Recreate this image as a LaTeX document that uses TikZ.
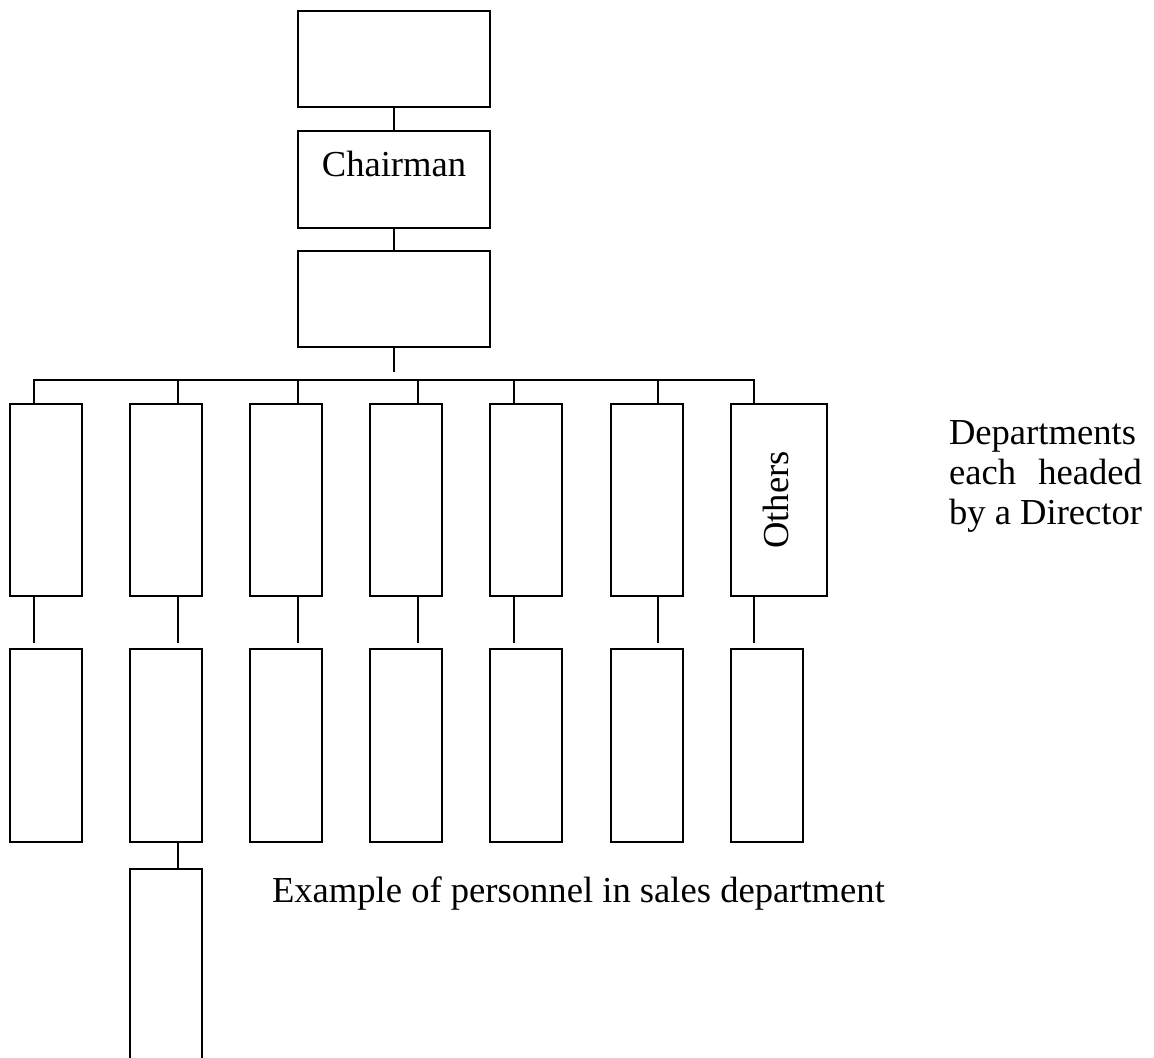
\documentclass[tikz,border=0pt]{standalone}
\usepackage{fontspec}
\setmainfont{Liberation Serif}
\begin{document}
\begin{tikzpicture}[x=0.5pt, y=-0.5pt, line width=1pt,
    wide/.style = {draw, minimum width=96pt, minimum height=48pt, inner sep=0pt},
    tall/.style = {draw, minimum width=36pt, minimum height=96pt, inner sep=0pt},
    txt/.style = {inner sep=0pt, font=\fontsize{18.3}{20}\selectfont}]

	\clip (0,0) rectangle (1154,1057);

	\node[wide] (T) at (394,59) {};
	\node[wide, minimum height=48.5pt] (C) at (394,179.5) {};
	\node[txt, anchor=base] (Clabel) at (394,176) {Chairman};
	\node[wide] (B) at (394,299) {};

	\node[tall] (D1) at (46,500) {};
	\node[tall] (D2) at (166,500) {};
	\node[tall] (D3) at (286,500) {};
	\node[tall] (D4) at (406,500) {};
	\node[tall] (D5) at (526,500) {};
	\node[tall] (D6) at (646.5,500) {};
	\node[tall, minimum width=48pt] (D7) at (779,500) {};
	\node[txt, rotate=90] (Olabel) at (775.5,500) {Others};

	\node[tall, minimum height=96.5pt] (S1) at (46,745.5) {};
	\node[tall, minimum height=96.5pt] (S2) at (166,745.5) {};
	\node[tall, minimum height=96.5pt] (S3) at (286,745.5) {};
	\node[tall, minimum height=96.5pt] (S4) at (406,745.5) {};
	\node[tall, minimum height=96.5pt] (S5) at (526,745.5) {};
	\node[tall, minimum height=96.5pt] (S6) at (646.5,745.5) {};
	\node[tall, minimum height=96.5pt] (S7) at (766.5,745.5) {};

	\node[tall, minimum height=96.5pt] (P) at (166,965.5) {};

	\coordinate (bar) at (394,380);
	\coordinate (j1) at (34,380);
	\coordinate (j2) at (178,380);
	\coordinate (j3) at (298,380);
	\coordinate (j4) at (418,380);
	\coordinate (j5) at (514,380);
	\coordinate (j6) at (658,380);
	\coordinate (j7) at (754,380);

	\draw (T) -- (C);
	\draw (C) -- (B);
	\draw[shorten >=4pt] (B) -- (bar);
	\draw (j1 |- D1.north) -- (j1) -- (j7) -- (j7 |- D7.north);
	\draw (j2) -- (j2 |- D2.north);
	\draw (j3) -- (j3 |- D3.north);
	\draw (j4) -- (j4 |- D4.north);
	\draw (j5) -- (j5 |- D5.north);
	\draw (j6) -- (j6 |- D6.north);

	\draw[shorten >=2.5pt] (j1 |- D1.south) -- (j1 |- S1.north);
	\draw[shorten >=2.5pt] (j2 |- D2.south) -- (j2 |- S2.north);
	\draw[shorten >=2.5pt] (j3 |- D3.south) -- (j3 |- S3.north);
	\draw[shorten >=2.5pt] (j4 |- D4.south) -- (j4 |- S4.north);
	\draw[shorten >=2.5pt] (j5 |- D5.south) -- (j5 |- S5.north);
	\draw[shorten >=2.5pt] (j6 |- D6.south) -- (j6 |- S6.north);
	\draw[shorten >=2.5pt] (j7 |- D7.south) -- (j7 |- S7.north);

	\draw (j2 |- S2.south) -- (j2 |- P.north);

	\node[txt, anchor=north west, align=left] (dept) at (948,420) {Departments\\ \makebox[96.5pt][s]{each headed}\\ by a Director};
	\node[txt, anchor=base west] (example) at (271,902) {Example of personnel in sales department};
\end{tikzpicture}
\end{document}
